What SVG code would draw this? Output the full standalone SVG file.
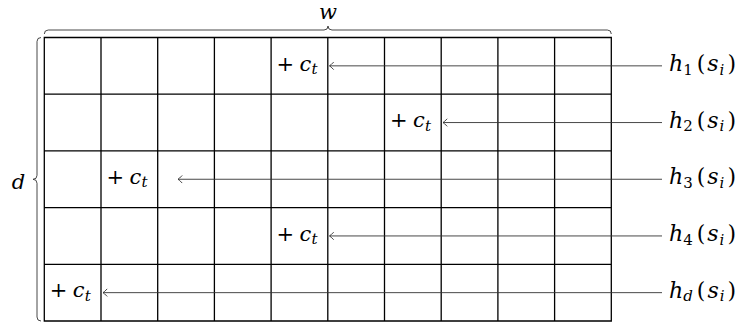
<svg xmlns="http://www.w3.org/2000/svg" width="741" height="325" viewBox="0 0 741 325">
<style>
.grid{fill:none;stroke:#000;stroke-width:1.3}
.brace{fill:none;stroke:#333;stroke-width:0.9}
.arr{fill:none;stroke:#333;stroke-width:0.9;marker-end:url(#to)}
.m{font-family:"DejaVu Serif","Liberation Serif",serif;font-size:21px;fill:#000}
.h{font-size:22px}
.it{font-style:italic}
.sub{font-size:15px}
</style>
<defs>
<marker id="to" markerUnits="userSpaceOnUse" markerWidth="12" markerHeight="12" viewBox="-6 -6 12 12" refX="0" refY="0" orient="auto">
<path d="M -4.2,-3.8 Q -1.2,-0.6 0,0 Q -1.2,0.6 -4.2,3.8" fill="none" stroke="#333" stroke-width="0.9"/>
</marker>
</defs>
<g id="grid">
<path class="grid" d="M44.3,37.5H611.3V321H44.3Z M44.3,94.2H611.3 M44.3,150.9H611.3 M44.3,207.6H611.3 M44.3,264.3H611.3 M101,37.5V321 M157.7,37.5V321 M214.4,37.5V321 M271.1,37.5V321 M327.8,37.5V321 M384.5,37.5V321 M441.2,37.5V321 M497.9,37.5V321 M554.6,37.5V321"/>
</g>
<g id="brace-w">
<path class="brace" d="M44.3,34 Q44.3,30 48.3,30 L324,30 Q328,30 328,26 Q328,30 332,30 L607.3,30 Q611.3,30 611.3,34"/>
<text class="m it" x="328" y="19" text-anchor="middle">w</text>
</g>
<g id="brace-d">
<path class="brace" d="M41,37.5 Q37,37.5 37,41.5 L37,175.3 Q37,179.3 33,179.3 Q37,179.3 37,183.3 L37,317 Q37,321 41,321"/>
<text class="m it" x="18.5" y="189" text-anchor="middle">d</text>
</g>
<g id="connectors">
<line class="arr" x1="662" y1="65.85" x2="329.5" y2="65.85"/>
<line class="arr" x1="662" y1="122.55" x2="443" y2="122.55"/>
<line class="arr" x1="662" y1="179.25" x2="178" y2="179.25"/>
<line class="arr" x1="662" y1="235.95" x2="329.5" y2="235.95"/>
<line class="arr" x1="662" y1="292.65" x2="103" y2="292.65"/>
</g>
<g id="c1"><text class="m" y="70.5"><tspan x="276.5">+</tspan><tspan class="it" x="299.5">c</tspan><tspan class="it sub" x="311.5" dy="3.5">t</tspan></text></g>
<g id="c2"><text class="m" y="127.2"><tspan x="389.9">+</tspan><tspan class="it" x="412.9">c</tspan><tspan class="it sub" x="424.9" dy="3.5">t</tspan></text></g>
<g id="c3"><text class="m" y="183.9"><tspan x="106.4">+</tspan><tspan class="it" x="129.4">c</tspan><tspan class="it sub" x="141.4" dy="3.5">t</tspan></text></g>
<g id="c4"><text class="m" y="240.6"><tspan x="276.5">+</tspan><tspan class="it" x="299.5">c</tspan><tspan class="it sub" x="311.5" dy="3.5">t</tspan></text></g>
<g id="c5"><text class="m" y="297.3"><tspan x="49.7">+</tspan><tspan class="it" x="72.7">c</tspan><tspan class="it sub" x="84.7" dy="3.5">t</tspan></text></g>
<g id="h1"><text class="m h" x="669" y="71"><tspan class="it">h</tspan><tspan class="sub" dy="3.5">1</tspan><tspan dx="4" dy="-3.5">(</tspan><tspan class="it" dx="2">s</tspan><tspan class="it sub" dx="1" dy="3.5">i</tspan><tspan dx="3" dy="-3.5">)</tspan></text></g>
<g id="h2"><text class="m h" x="669" y="127.7"><tspan class="it">h</tspan><tspan class="sub" dy="3.5">2</tspan><tspan dx="4" dy="-3.5">(</tspan><tspan class="it" dx="2">s</tspan><tspan class="it sub" dx="1" dy="3.5">i</tspan><tspan dx="3" dy="-3.5">)</tspan></text></g>
<g id="h3"><text class="m h" x="669" y="184.4"><tspan class="it">h</tspan><tspan class="sub" dy="3.5">3</tspan><tspan dx="4" dy="-3.5">(</tspan><tspan class="it" dx="2">s</tspan><tspan class="it sub" dx="1" dy="3.5">i</tspan><tspan dx="3" dy="-3.5">)</tspan></text></g>
<g id="h4"><text class="m h" x="669" y="241.1"><tspan class="it">h</tspan><tspan class="sub" dy="3.5">4</tspan><tspan dx="4" dy="-3.5">(</tspan><tspan class="it" dx="2">s</tspan><tspan class="it sub" dx="1" dy="3.5">i</tspan><tspan dx="3" dy="-3.5">)</tspan></text></g>
<g id="hd"><text class="m h" x="669" y="297.8"><tspan class="it">h</tspan><tspan class="it sub" dy="3.5">d</tspan><tspan dx="4" dy="-3.5">(</tspan><tspan class="it" dx="2">s</tspan><tspan class="it sub" dx="1" dy="3.5">i</tspan><tspan dx="3" dy="-3.5">)</tspan></text></g>
</svg>
